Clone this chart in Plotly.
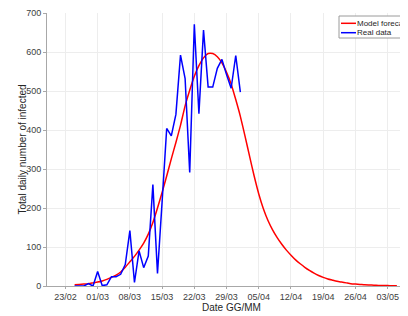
import pandas as pd
import plotly.graph_objects as go

# ---- data ----
real_start = "2020-02-25"
real_values = [0, 0, 0, 6, 0, 37, 1, 3, 24, 24, 30, 55, 142, 9, 90, 47, 77, 260, 32,
               215, 404, 385, 440, 592, 532, 291, 671, 442, 656, 510, 510, 558, 581,
               542, 507, 591, 497]

model_start = "2020-02-25"
model_values = [3, 4, 5, 6, 8, 10, 13, 17, 22, 28, 36, 48, 62, 76, 92, 110, 133, 163,
                200, 240, 282, 326, 368, 412, 462, 502, 538, 565, 585, 596, 596, 588,
                572, 548, 518, 478, 435, 385, 333, 282, 236, 198, 168, 144, 124, 107,
                92, 79, 67, 57, 48, 40, 33, 27, 22, 18, 15, 12, 10, 8, 6, 5, 4, 3,
                2.5, 2, 1.5, 1.2, 1, 0.8, 0.6]

tick_dates = ["2020-02-23", "2020-03-01", "2020-03-08", "2020-03-15", "2020-03-22",
              "2020-03-29", "2020-04-05", "2020-04-12", "2020-04-19", "2020-04-26",
              "2020-05-03"]
tick_labels = ["23/02", "01/03", "08/03", "15/03", "22/03", "29/03", "05/04",
               "12/04", "19/04", "26/04", "03/05"]
y_ticks = [0, 100, 200, 300, 400, 500, 600, 700]

series_names = ["Model forecast", "Real data"]
series_colors = ["#ff0000", "#0000ff"]

real_dates = pd.date_range(real_start, periods=len(real_values), freq="D")
model_dates = pd.date_range(model_start, periods=len(model_values), freq="D")

FONT = "Liberation Sans, Arial, sans-serif"

fig = go.Figure()
fig.add_trace(go.Scatter(x=model_dates, y=model_values, mode="lines",
                         line=dict(color=series_colors[0], width=1.5, shape="spline", smoothing=0.5),
                         name=series_names[0], showlegend=False))
fig.add_trace(go.Scatter(x=real_dates, y=real_values, mode="lines",
                         line=dict(color=series_colors[1], width=1.5),
                         name=series_names[1], showlegend=False))

# page body has an 8px margin; figure occupies page px 8..408 x 8..316
OFF = 8
L, T, PW, PH = 47, 13, 361, 273  # plot area in page px


def px_x(x):
    return (x - L) / PW


def px_y(y):
    return (T + PH - y) / PH


fig.update_layout(
    width=408 - OFF, height=316 - OFF,
    margin=dict(l=L - OFF, r=0, t=T - OFF, b=316 - T - PH, autoexpand=False),
    paper_bgcolor="white", plot_bgcolor="white",
    font=dict(family=FONT, color="#262626"),
    showlegend=False,
    xaxis=dict(type="date", range=["2020-02-19", "2020-05-07 10:00"],
               tickvals=tick_dates, ticktext=tick_labels,
               showgrid=True, gridcolor="#ededed", gridwidth=1,
               showline=True, linecolor="#a8a8a8", linewidth=1,
               ticks="outside", ticklen=2, tickcolor="#a8a8a8",
               tickfont=dict(size=9, color="#404040", family=FONT),
               zeroline=False, fixedrange=True),
    yaxis=dict(range=[0, 700], tickvals=y_ticks,
               showgrid=True, gridcolor="#ededed", gridwidth=1,
               showline=True, linecolor="#a8a8a8", linewidth=1,
               ticks="outside", ticklen=3, tickcolor="#a8a8a8",
               tickfont=dict(size=9, color="#404040", family=FONT),
               zeroline=False, fixedrange=True),
)

# axis titles
fig.add_annotation(text="Date GG/MM", xref="paper", yref="paper",
                   x=px_x(231), y=px_y(307), xanchor="center", yanchor="middle",
                   showarrow=False, font=dict(size=10, color="#262626", family=FONT))
fig.add_annotation(text="Total daily number of infected", xref="paper", yref="paper",
                   x=px_x(22), y=px_y(149.5), xanchor="center", yanchor="middle",
                   textangle=-90, showarrow=False,
                   font=dict(size=10, color="#262626", family=FONT))

# legend box (drawn like the original, partly cut by the page edge)
fig.add_shape(type="rect", xref="paper", yref="paper",
              x0=px_x(339), x1=px_x(425), y0=px_y(38), y1=px_y(16),
              line=dict(color="#9a9a9a", width=1), fillcolor="white", layer="above")
for name, color, yy in zip(series_names, series_colors, [23.3, 32.7]):
    fig.add_shape(type="line", xref="paper", yref="paper",
                  x0=px_x(341), x1=px_x(356), y0=px_y(yy), y1=px_y(yy),
                  line=dict(color=color, width=1.5), layer="above")
    fig.add_annotation(text=name, xref="paper", yref="paper",
                       x=px_x(355), y=px_y(yy), xanchor="left", yanchor="middle",
                       showarrow=False, font=dict(size=8, color="#262626", family=FONT))

fig.write_html("out.html")
